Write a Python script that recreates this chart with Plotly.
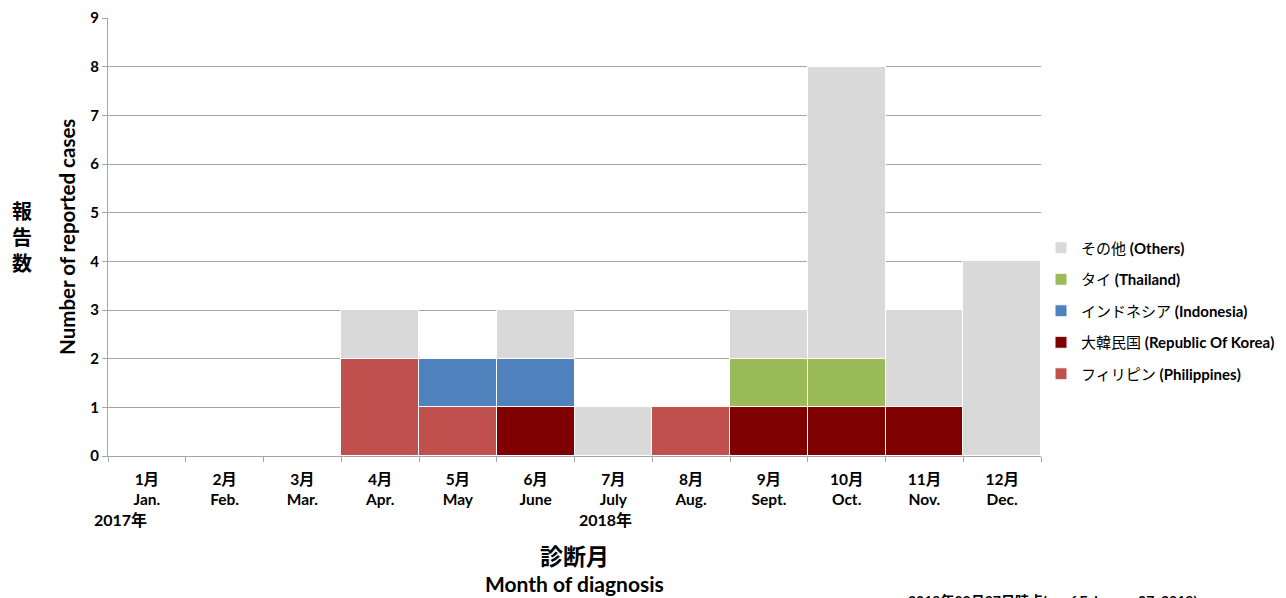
import plotly.graph_objects as go

months = ["1月<br>Jan.", "2月<br>Feb.", "3月<br>Mar.", "4月<br>Apr.", "5月<br>May", "6月<br>June",
          "7月<br>July", "8月<br>Aug.", "9月<br>Sept.", "10月<br>Oct.", "11月<br>Nov.", "12月<br>Dec."]

philippines = [0, 0, 0, 2, 1, 0, 0, 1, 0, 0, 0, 0]
korea       = [0, 0, 0, 0, 0, 1, 0, 0, 1, 1, 1, 0]
indonesia   = [0, 0, 0, 0, 1, 1, 0, 0, 0, 0, 0, 0]
thailand    = [0, 0, 0, 0, 0, 0, 0, 0, 1, 1, 0, 0]
others      = [0, 0, 0, 1, 0, 1, 1, 0, 1, 6, 2, 4]

series = [
    ("フィリピン <b>(Philippines)</b>", philippines, "#C0504D"),
    ("大韓民国 <b>(Republic Of Korea)</b>", korea, "#7F0000"),
    ("インドネシア <b>(Indonesia)</b>", indonesia, "#4F81BD"),
    ("タイ <b>(Thailand)</b>", thailand, "#9BBB59"),
    ("その他 <b>(Others)</b>", others, "#D9D9D9"),
]

FONT = "Lato, 'Noto Sans CJK JP', sans-serif"

fig = go.Figure()
for i, (name, vals, color) in enumerate(series):
    fig.add_trace(go.Bar(x=months, y=vals, name=name, legendgroup=f"g{i}",
                         legendrank=1000 - i,
                         marker=dict(color=color, line=dict(color="white", width=1))))

# page body has an 8px default margin, so the figure is drawn 8px smaller
fig.update_layout(
    barmode="stack", bargap=0,
    width=1278, height=590,
    margin=dict(l=100, r=245, t=10, b=142, autoexpand=False),
    plot_bgcolor="white", paper_bgcolor="white",
    font=dict(family=FONT, size=14, color="#000"),
    showlegend=True,
    legend=dict(traceorder="grouped", x=1.0, xanchor="left", y=0.331, yanchor="middle",
                font=dict(size=15, family=FONT), tracegroupgap=9, itemwidth=30,
                bgcolor="rgba(0,0,0,0)"),
    xaxis=dict(type="category", range=[-0.5, len(months) - 0.5],
               tickson="boundaries", ticks="outside", ticklen=5,
               tickcolor="#A6A6A6", showline=True, linecolor="#A6A6A6", automargin=False,
               ticklabelstandoff=9,
               tickfont=dict(size=15.5, family=FONT, weight="bold")),
    yaxis=dict(range=[0, 9], dtick=1, showgrid=True, gridcolor="#A6A6A6",
               showline=True, linecolor="#A6A6A6", ticks="outside", ticklen=5,
               tickcolor="#A6A6A6", zeroline=False, automargin=False,
               tickfont=dict(size=15, family=FONT, weight="bold")),
)

annotations = [
    dict(text="<b>2017年</b>", xref="paper", yref="paper", x=0.013, y=-0.118,
         xanchor="center", yanchor="top", showarrow=False, font=dict(size=16)),
    dict(text="<b>2018年</b>", xref="paper", yref="paper", x=0.533, y=-0.118,
         xanchor="center", yanchor="top", showarrow=False, font=dict(size=16)),
    dict(text="<b>Number of reported cases</b>", xref="paper", yref="paper", x=-0.044, y=0.5,
         xanchor="center", yanchor="middle", textangle=-90, showarrow=False,
         font=dict(size=20.5)),
    dict(text="<b>報<br>告<br>数</b>", xref="paper", yref="paper", x=-0.092, y=0.5,
         xanchor="center", yanchor="middle", showarrow=False, font=dict(size=20)),
    dict(text="<b>診断月</b>", xref="paper", yref="paper", x=0.4995, y=-0.228,
         xanchor="center", yanchor="middle", showarrow=False, font=dict(size=23)),
    dict(text="<b>Month of diagnosis</b>", xref="paper", yref="paper", x=0.4995, y=-0.292,
         xanchor="center", yanchor="middle", showarrow=False, font=dict(size=21)),
    dict(text="<b>2019年02月27日時点(as of February 27, 2019)</b>", xref="paper", yref="paper",
         x=0.855, y=-0.3055, xanchor="left", yanchor="top", showarrow=False,
         font=dict(size=14)),
]
fig.update_layout(annotations=annotations)

fig.write_html("out.html")
